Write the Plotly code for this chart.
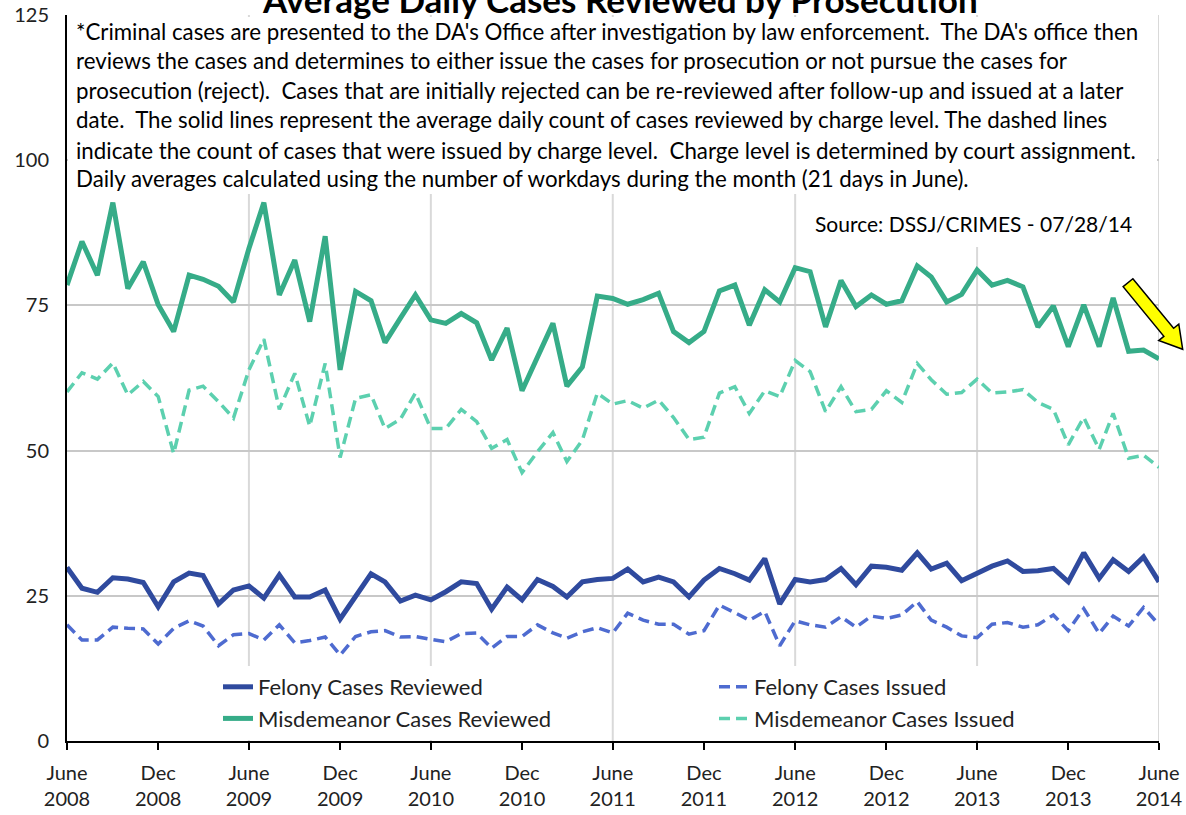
import math
import pandas as pd
import plotly.graph_objects as go

# ---------------- data ----------------
months = pd.date_range("2008-06-01", periods=73, freq="MS")

felony_reviewed = [
    29.9, 26.3, 25.6, 28.1, 27.9, 27.3, 23.1, 27.4, 28.9, 28.5, 23.6, 26.0, 26.7,
    24.6, 28.6, 24.8, 24.8, 26.0, 21.0, 24.8, 28.8, 27.4, 24.1, 25.1, 24.3,
    25.7, 27.4, 27.1, 22.7, 26.5, 24.3, 27.8, 26.6, 24.8, 27.4, 27.8, 28.0,
    29.6, 27.4, 28.2, 27.4, 24.8, 27.7, 29.7, 28.8, 27.7, 31.4, 23.6, 27.8,
    27.4, 27.8, 29.7, 26.9, 30.1, 29.9, 29.4, 32.4, 29.6, 30.6, 27.6, 28.9,
    30.1, 31.0, 29.2, 29.3, 29.7, 27.4, 32.4, 28.0, 31.2, 29.2, 31.7, 27.4,
]
felony_issued = [
    20.0, 17.4, 17.4, 19.6, 19.4, 19.3, 16.7, 19.4, 20.7, 19.8, 16.4, 18.3, 18.5,
    17.4, 20.0, 16.9, 17.3, 17.9, 14.8, 18.0, 18.8, 19.0, 17.9, 18.0, 17.5,
    17.1, 18.5, 18.6, 16.0, 18.0, 18.0, 20.0, 18.6, 17.7, 18.8, 19.5, 18.6,
    22.0, 20.8, 20.1, 20.1, 18.4, 19.0, 23.4, 22.1, 20.8, 22.3, 16.4, 20.7,
    20.0, 19.6, 21.4, 19.6, 21.5, 21.1, 21.7, 24.0, 20.8, 19.6, 18.1, 17.8,
    20.1, 20.4, 19.6, 20.0, 21.7, 19.0, 22.8, 18.5, 21.5, 19.8, 23.0, 20.0,
]
misd_reviewed = [
    78.5, 86.0, 80.2, 92.7, 77.9, 82.5, 75.1, 70.5, 80.2, 79.5, 78.3, 75.6, 84.8,
    92.7, 76.8, 82.8, 72.2, 86.9, 63.9, 77.4, 75.8, 68.6, 72.8, 76.8, 72.5,
    71.9, 73.6, 72.0, 65.6, 71.1, 60.3, 66.2, 71.9, 61.1, 64.4, 76.6, 76.2,
    75.2, 76.0, 77.1, 70.5, 68.6, 70.5, 77.5, 78.5, 71.6, 77.7, 75.6, 81.5,
    80.8, 71.3, 79.3, 74.8, 76.8, 75.2, 75.8, 81.8, 79.9, 75.6, 76.9, 81.1,
    78.5, 79.3, 78.2, 71.3, 74.9, 67.9, 75.1, 67.9, 76.3, 67.1, 67.3, 65.8,
]
misd_issued = [
    60.1, 63.4, 62.3, 65.1, 59.6, 61.9, 59.3, 49.5, 60.4, 61.1, 58.4, 55.6, 63.9,
    69.2, 57.1, 63.3, 54.2, 65.0, 48.8, 59.0, 59.6, 53.8, 55.4, 59.9, 53.8,
    53.8, 57.1, 55.0, 50.4, 51.9, 46.2, 49.8, 53.1, 48.1, 51.8, 59.9, 58.0,
    58.6, 57.3, 58.7, 55.7, 51.9, 52.3, 59.9, 61.0, 56.4, 60.3, 59.3, 65.5,
    63.6, 56.7, 61.0, 56.7, 57.1, 60.3, 58.3, 65.0, 62.2, 59.7, 60.0, 62.3,
    59.9, 60.1, 60.5, 58.3, 57.1, 51.0, 55.7, 50.2, 56.4, 48.7, 49.2, 47.1,
]

tick_dates = pd.date_range("2008-06-01", "2014-06-01", freq="6MS")
tick_labels = ["June<br>2008", "Dec<br>2008", "June<br>2009", "Dec<br>2009",
               "June<br>2010", "Dec<br>2010", "June<br>2011", "Dec<br>2011",
               "June<br>2012", "Dec<br>2012", "June<br>2013", "Dec<br>2013",
               "June<br>2014"]
grid_dates = pd.date_range("2009-06-01", "2014-06-01", freq="12MS")
y_ticks = [0, 25, 50, 75, 100, 125]

title_text = "Average Daily Cases Reviewed by Prosecution"
note_lines = [
    "*Criminal cases are presented to the DA's Office after investigation by law enforcement.  The DA's office then",
    "reviews the cases and determines to either issue the cases for prosecution or not pursue the cases for",
    "prosecution (reject).  Cases that are initially rejected can be re-reviewed after follow-up and issued at a later",
    "date.  The solid lines represent the average daily count of cases reviewed by charge level. The dashed lines",
    "indicate the count of cases that were issued by charge level.  Charge level is determined by court assignment.",
    "Daily averages calculated using the number of workdays during the month (21 days in June).",
]
source_text = "Source: DSSJ/CRIMES - 07/28/14"

# ---------------- layout geometry ----------------
W, H = 1186, 815
PL, PR, PT, PB = 67, 1159, 15, 741   # plot-area edges in page pixels
FONT = "Lato"


def px_x(x):
    """page pixel x -> paper fraction"""
    return (x - PL) / (PR - PL)


def px_y(y):
    """page pixel y -> paper fraction"""
    return (PB - y) / (PB - PT)


fig = go.Figure()
fig.add_trace(go.Scatter(x=months, y=felony_reviewed, mode="lines",
                         name="Felony Cases Reviewed", legend="legend",
                         line=dict(color="#2F4A9E", width=5)))
fig.add_trace(go.Scatter(x=months, y=felony_issued, mode="lines",
                         name="Felony Cases Issued", legend="legend2",
                         line=dict(color="#4E6BD0", width=3.5, dash="11px,6px")))
fig.add_trace(go.Scatter(x=months, y=misd_reviewed, mode="lines",
                         name="Misdemeanor Cases Reviewed", legend="legend",
                         line=dict(color="#36AC88", width=5)))
fig.add_trace(go.Scatter(x=months, y=misd_issued, mode="lines",
                         name="Misdemeanor Cases Issued", legend="legend2",
                         line=dict(color="#5CD0AF", width=3.5, dash="11px,6px")))

shapes = []
for d in grid_dates:
    shapes.append(dict(type="line", xref="x", yref="y", x0=d, x1=d, y0=0, y1=125,
                       line=dict(color="#D9D9D9", width=2), layer="below"))
# white backgrounds of the note boxes
shapes.append(dict(type="rect", xref="paper", yref="paper",
                   x0=px_x(68), x1=px_x(1157), y0=px_y(194), y1=px_y(17),
                   fillcolor="white", line=dict(width=0), layer="above"))
shapes.append(dict(type="rect", xref="paper", yref="paper",
                   x0=px_x(808), x1=px_x(1157), y0=px_y(247), y1=px_y(193),
                   fillcolor="white", line=dict(width=0), layer="above"))

# yellow block arrow
tx, ty = 1128.0, 282.7
ex, ey = 1182.7, 349.3
ln = math.hypot(ex - tx, ey - ty)
ux, uy = (ex - tx) / ln, (ey - ty) / ln
nx, ny = uy, -ux
w, Wh, Hh = 6.3, 13.0, 22.0
bx, by = ex - ux * Hh, ey - uy * Hh
pts = [(tx + nx * w, ty + ny * w), (bx + nx * w, by + ny * w), (bx + nx * Wh, by + ny * Wh),
       (ex, ey), (bx - nx * Wh, by - ny * Wh), (bx - nx * w, by - ny * w), (tx - nx * w, ty - ny * w)]
path = "M " + " L ".join(f"{px_x(a):.5f},{px_y(b):.5f}" for a, b in pts) + " Z"
shapes.append(dict(type="path", xref="paper", yref="paper", path=path,
                   fillcolor="#FFFF00", line=dict(color="black", width=1.5), layer="above"))

annotations = []
annotations.append(dict(text=f"<b>{title_text}</b>", xref="paper", yref="paper",
                        x=px_x(620), y=px_y(-1), xanchor="center", yanchor="middle",
                        showarrow=False, font=dict(family=FONT, size=35, color="black")))
line_ys = [32, 61, 91, 120, 150, 179]
for txt, yy in zip(note_lines, line_ys):
    annotations.append(dict(text=txt, xref="paper", yref="paper", x=px_x(74), y=px_y(yy),
                            xanchor="left", yanchor="middle", showarrow=False,
                            font=dict(family=FONT, size=22.3, color="black")))
annotations.append(dict(text=source_text, xref="paper", yref="paper", x=px_x(1134), y=px_y(224),
                        xanchor="right", yanchor="middle", showarrow=False,
                        font=dict(family=FONT, size=21, color="black")))

legend_common = dict(orientation="v", xanchor="left", yanchor="top", bgcolor="white",
                     font=dict(family=FONT, size=22, color="#222222"), traceorder="normal",
                     itemwidth=30)

fig.update_layout(
    width=W, height=H,
    margin=dict(l=PL, r=W - PR, t=PT, b=H - PB, pad=0, autoexpand=False),
    plot_bgcolor="white", paper_bgcolor="white",
    font=dict(family=FONT, size=20, color="#222222"),
    showlegend=True,
    legend=dict(x=px_x(218), y=px_y(666), **legend_common),
    legend2=dict(x=px_x(714), y=px_y(666), **legend_common),
    shapes=shapes,
    annotations=annotations,
    xaxis=dict(range=[months[0], months[-1]], tickvals=list(tick_dates), ticktext=tick_labels,
               showgrid=False, showline=True, linecolor="black", linewidth=2,
               ticks="outside", ticklen=7, tickwidth=2, tickcolor="black", automargin=False,
               ticklabeloverflow="allow",
               ticklabelstandoff=6, tickfont=dict(size=20, color="#222222"), zeroline=False),
    yaxis=dict(range=[0, 125], tickvals=y_ticks, showgrid=True, gridcolor="#C8C8C8", gridwidth=2,
               showline=True, linecolor="black", linewidth=2, ticks="", zeroline=False,
               automargin=False, ticklabeloverflow="allow",
               ticklabelstandoff=12, tickfont=dict(size=20, color="#222222")),
)

fig.write_html("out.html", config={"displayModeBar": False},
               post_script="document.body.style.margin='0';document.body.style.overflow='hidden';")
